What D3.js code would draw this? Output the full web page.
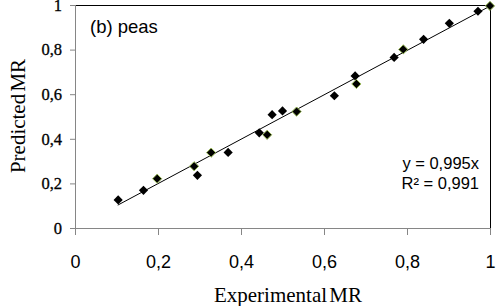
<!DOCTYPE html>
<html>
  <head>
    <meta charset="utf-8">
    <title>Predicted vs experimental MR - peas</title>
    <script src="https://cdn.jsdelivr.net/npm/d3@7"></script>
    <style>
      body { margin: 0; background: #fff; }
      svg { display: block; }
      .serif { font-family: "Liberation Serif", "Times New Roman", serif; fill: #000; }
      .sans { font-family: "Liberation Sans", Arial, sans-serif; fill: #000; }
    </style>
  </head>
  <body>
    <svg id="chart" width="497" height="306"></svg>

    <script>
      // data: experimental MR vs predicted MR, two series
      blackX = [0.104, 0.165, 0.295, 0.369, 0.444, 0.475, 0.500, 0.625, 0.675, 0.769, 0.840, 0.902, 0.971];
      blackY = [0.126, 0.169, 0.236, 0.339, 0.427, 0.508, 0.525, 0.593, 0.682, 0.765, 0.846, 0.918, 0.972];
      greenX = [0.198, 0.287, 0.328, 0.463, 0.534, 0.678, 0.791, 1.000];
      greenY = [0.221, 0.277, 0.338, 0.418, 0.522, 0.646, 0.801, 0.996];
      trendX = [0.103, 1];
      slope = 0.995;
      xTicks = [0, 0.2, 0.4, 0.6, 0.8, 1];
      yTicks = [0, 0.2, 0.4, 0.6, 0.8, 1];
      fmt = function(d) { return String(d).replace(".", ","); };

      svg = d3.select("#chart");

      x = d3.scaleLinear().domain([0, 1]).range([75, 490]);
      y = d3.scaleLinear().domain([0, 1]).range([228, 5]);

      // plot frame (top / right)
      svg.append("path")
        .attr("d", "M" + x(0) + "," + (y(1) + 0.5) + "H" + (x(1) + 0.5) + "V" + y(0))
        .attr("fill", "none")
        .attr("stroke", "#000")
        .attr("stroke-width", 1);

      // axes
      xAxis = svg.append("g")
        .attr("transform", "translate(0," + y(0) + ")")
        .call(d3.axisBottom(x).tickValues(xTicks).tickSize(7).tickFormat(fmt));
      xAxis.select(".domain").attr("stroke", "#868686").attr("d", "M" + x(0) + ",0.5H" + x(1));
      xAxis.selectAll(".tick line").attr("stroke", "#868686");
      xAxis.selectAll(".tick text")
        .attr("class", "sans")
        .attr("font-size", 18)
        .attr("y", 0)
        .attr("dy", 40)
        .attr("fill", "#000");

      yAxis = svg.append("g")
        .attr("transform", "translate(" + x(0) + ",0)")
        .call(d3.axisLeft(y).tickValues(yTicks).tickSize(5).tickFormat(fmt));
      yAxis.select(".domain").attr("stroke", "#868686").attr("d", "M0.5," + y(0) + "V" + y(1));
      yAxis.selectAll(".tick line").attr("stroke", "#868686");
      yAxis.selectAll(".tick text")
        .attr("class", "serif")
        .attr("font-size", 16.5)
        .attr("x", -13)
        .attr("dy", "0.32em")
        .attr("stroke", "#000")
        .attr("stroke-width", 0.3)
        .attr("fill", "#000");
      svg.selectAll(".tick text").attr("font-family", null);

      // trend line
      svg.append("line")
        .attr("x1", x(trendX[0])).attr("y1", y(slope * trendX[0]))
        .attr("x2", x(trendX[1])).attr("y2", y(slope * trendX[1]))
        .attr("stroke", "#000")
        .attr("stroke-width", 1);

      diamond = d3.symbol().type(d3.symbolDiamond2).size(54);

      svg.append("g").selectAll("path")
        .data(d3.zip(blackX, blackY))
        .enter().append("path")
          .attr("d", diamond)
          .attr("transform", function(d) { return "translate(" + x(d[0]) + "," + y(d[1]) + ")"; })
          .attr("fill", "#000");

      svg.append("g").selectAll("path")
        .data(d3.zip(greenX, greenY))
        .enter().append("path")
          .attr("d", diamond)
          .attr("transform", function(d) { return "translate(" + x(d[0]) + "," + y(d[1]) + ")"; })
          .attr("fill", "#000")
          .attr("stroke", "#9bbb59")
          .attr("stroke-width", 1);

      // labels
      svg.append("text")
        .attr("class", "sans")
        .attr("x", 90).attr("y", 33)
        .attr("font-size", 18.5)
        .text("(b) peas");

      svg.append("text")
        .attr("class", "sans")
        .attr("x", 479).attr("y", 169)
        .attr("text-anchor", "end")
        .attr("font-size", 16.5)
        .text("y = 0,995x");

      svg.append("text")
        .attr("class", "sans")
        .attr("x", 479).attr("y", 189)
        .attr("text-anchor", "end")
        .attr("font-size", 16.5)
        .text("R² = 0,991");

      svg.append("text")
        .attr("class", "serif")
        .attr("x", 288).attr("y", 302)
        .attr("text-anchor", "middle")
        .attr("font-size", 21)
        .attr("word-spacing", -3)
        .text("Experimental MR");

      svg.append("text")
        .attr("class", "serif")
        .attr("transform", "translate(25,116) rotate(-90)")
        .attr("text-anchor", "middle")
        .attr("font-size", 21)
        .attr("word-spacing", -3)
        .text("Predicted MR");
    </script>
  </body>
</html>
